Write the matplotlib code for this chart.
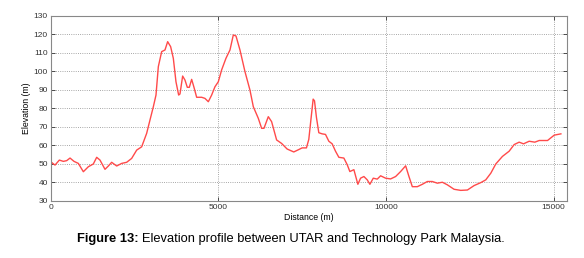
import numpy as np
import matplotlib.pyplot as plt

plt.rcParams['font.family'] = ['Liberation Sans', 'DejaVu Sans']

# 距离(m) 与 海拔(m)
distance = [0, 129, 258, 378, 477, 577, 696, 825, 974, 1123, 1272, 1372, 1471,
            1620, 1720, 1819, 1968, 2117, 2266, 2415, 2565, 2714, 2863, 2962,
            3062, 3141, 3211, 3310, 3409, 3489, 3578, 3658, 3737, 3817, 3857,
            3936, 4006, 4075, 4135, 4205, 4274, 4354, 4503, 4602, 4702, 4801,
            4900, 5000, 5099, 5228, 5348, 5447, 5527, 5646, 5795, 5944, 6044,
            6193, 6292, 6362, 6491, 6590, 6739, 6889, 7052, 7251, 7400, 7500,
            7629, 7699, 7769, 7829, 7869, 7928, 7998, 8098, 8197, 8297, 8396,
            8496, 8596, 8745, 8845, 8924, 9044, 9163, 9243, 9343, 9442, 9522,
            9622, 9741, 9841, 9990, 10139, 10289, 10438, 10588, 10687, 10787,
            10936, 11086, 11235, 11384, 11534, 11683, 11833, 12032, 12231,
            12431, 12630, 12829, 12978, 13128, 13277, 13476, 13675, 13825,
            13974, 14104, 14273, 14442, 14572, 14821, 15020, 15219]
elevation = [51.1, 49.3, 52.0, 51.3, 51.7, 53.1, 51.3, 50.2, 45.7, 48.4, 49.9,
             53.5, 52.0, 47.0, 48.8, 50.8, 48.8, 50.2, 50.8, 52.9, 57.4, 59.2,
             66.5, 73.7, 80.9, 87.2, 102.6, 110.7, 111.6, 116.1, 113.4, 107.1,
             94.4, 87.2, 87.8, 97.5, 95.3, 91.4, 91.4, 95.7, 91.4, 86.0, 86.0,
             85.4, 83.6, 87.2, 91.7, 94.4, 100.8, 107.1, 111.6, 119.7, 119.2,
             111.6, 99.9, 89.9, 80.9, 74.6, 69.2, 69.2, 75.5, 72.8, 62.9, 61.0,
             58.0, 56.4, 57.7, 58.6, 58.6, 63.2, 75.0, 85.0, 84.1, 75.0, 66.8,
             66.2, 65.9, 62.2, 60.8, 56.8, 53.5, 53.1, 49.5, 45.8, 46.8, 38.9,
             42.2, 43.1, 41.3, 38.9, 42.2, 41.7, 43.5, 42.2, 41.8, 43.1, 45.8,
             48.9, 43.1, 37.6, 37.6, 38.9, 40.4, 40.4, 39.5, 40.0, 38.6, 36.2,
             35.6, 35.8, 38.2, 39.8, 41.3, 44.9, 49.9, 54.0, 56.8, 60.4, 61.7,
             60.8, 62.2, 61.7, 62.6, 62.6, 65.5, 66.2]

x_ticks = [0, 5000, 10000, 15000]
y_ticks = [30, 40, 50, 60, 70, 80, 90, 100, 110, 120, 130]

fig = plt.figure(figsize=(5.84, 2.58), dpi=100)
ax = fig.add_axes([0.0868, 0.222, 0.8846, 0.716])

ax.plot(distance, elevation, color='#ff4a4a', lw=1.0)
ax.set_xlim(0, 15410)
ax.set_ylim(30, 130)
ax.set_xticks(x_ticks)
ax.set_yticks(y_ticks)
ax.tick_params(direction='in', length=3, labelsize=6, colors='#333333',
               width=0.6, top=True, right=True, pad=2)
ax.grid(True, linestyle=':', color='#8a8a8a', lw=0.6)
for s in ax.spines.values():
    s.set_color('#888888')
    s.set_linewidth(0.8)

ax.set_xlabel('Distance (m)', fontsize=6.3, labelpad=2)
ax.set_ylabel('Elevation (m)', fontsize=6.3, labelpad=2)

# 图注：粗体编号 + 常规文字
fig.canvas.draw()
r = fig.canvas.get_renderer()
t1 = fig.text(0.132, 0.062, 'Figure 13:', fontsize=9.25, fontweight='bold', va='baseline')
w = t1.get_window_extent(r).width / fig.bbox.width
fig.text(0.132 + w + 0.006, 0.062, 'Elevation profile between UTAR and Technology Park Malaysia.',
         fontsize=9.25, va='baseline')

fig.savefig('out.png', dpi=100)
